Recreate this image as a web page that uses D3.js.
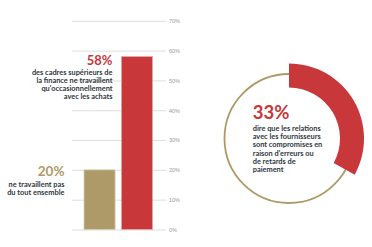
<!DOCTYPE html>
<html>
<head>
<meta charset="utf-8">
<script src="https://cdn.jsdelivr.net/npm/d3@7"></script>
<style>
  body { margin: 0; background: #fff; }
  svg { display: block; font-family: Lato, "Open Sans", sans-serif; }
  .tick text { fill: #9a9a9a; font-size: 5.5px; }
  .tick line { stroke: #dedede; stroke-width: 1; }
</style>
</head>
<body>
<svg id="chart" width="372" height="247"></svg>
<script>
// data
var barKeys = ["none", "occasional"];
var barValues = [20, 58];
var yTicks = [0, 10, 20, 30, 40, 50, 60, 70];
var donutValue = 33;

var bigLabels = ["20%", "58%"];
var noneLines = ["ne travaillent pas", "du tout ensemble"];
var occLines = ["des cadres supérieurs de", "la finance ne travaillent", "qu'occasionnellement", "avec les achats"];
var donutLines = ["dire que les relations", "avec les fournisseurs", "sont compromises en", "raison d'erreurs ou", "de retards de", "paiement"];

var red = "#c8373a", gold = "#ad9a68", ink = "#2d3740";
var barColors = [gold, red];
var barStroke = ["#d6ccb0", "#e4a6a4"];

var svg = d3.select("#chart");

// bar chart
var x = d3.scaleBand().domain(barKeys).range([84, 152.5]).paddingInner(0.17);
var y = d3.scaleLinear().domain([0, 70]).range([229.5, 20.8]);

svg.append("g")
    .attr("transform", "translate(166,0)")
    .call(d3.axisRight(y).tickValues(yTicks).tickSize(-94).tickPadding(3).tickFormat(d => d + "%"))
    .call(g => g.select(".domain").remove());

svg.selectAll(".bar")
    .data(barValues)
    .enter().append("rect")
    .attr("class", "bar")
    .attr("x", (d, i) => x(barKeys[i]))
    .attr("y", d => y(d))
    .attr("width", x.bandwidth())
    .attr("height", d => y(0) - y(d))
    .attr("fill", (d, i) => barColors[i])
    .attr("stroke", (d, i) => barStroke[i])
    .attr("stroke-width", 0.8);

// big number + caption lines
function block(x0, y0, big, bigColor, lines, anchor, bigSize, lineStep, firstGap) {
    var g = svg.append("g").attr("text-anchor", anchor);
    g.append("text")
        .attr("x", x0).attr("y", y0)
        .attr("fill", bigColor)
        .attr("font-weight", 700)
        .attr("font-size", bigSize)
        .text(big);
    g.selectAll(".ln")
        .data(lines)
        .enter().append("text")
        .attr("x", x0)
        .attr("y", (d, i) => y0 + firstGap + i * lineStep)
        .attr("fill", ink)
        .attr("font-weight", 700)
        .attr("font-size", 7.4)
        .text(d => d);
}

block(112.5, 65, bigLabels[1], red, occLines, "end", 13, 8, 9.9);
block(64.5, 175.7, bigLabels[0], gold, noneLines, "end", 13.5, 8, 11.6);

// donut
var cx = 289, cy = 138.5;
var dg = svg.append("g").attr("transform", "translate(" + cx + "," + cy + ")");

dg.append("circle")
    .attr("r", 64.5)
    .attr("fill", "none")
    .attr("stroke", gold)
    .attr("stroke-width", 1.8);

dg.append("path")
    .attr("d", d3.arc().innerRadius(51).outerRadius(75).startAngle(0).endAngle(donutValue / 100 * 2 * Math.PI)())
    .attr("fill", red);

block(252.7, 119, donutValue + "%", red, donutLines, "start", 18.5, 8.3, 11.7);
</script>
</body>
</html>
